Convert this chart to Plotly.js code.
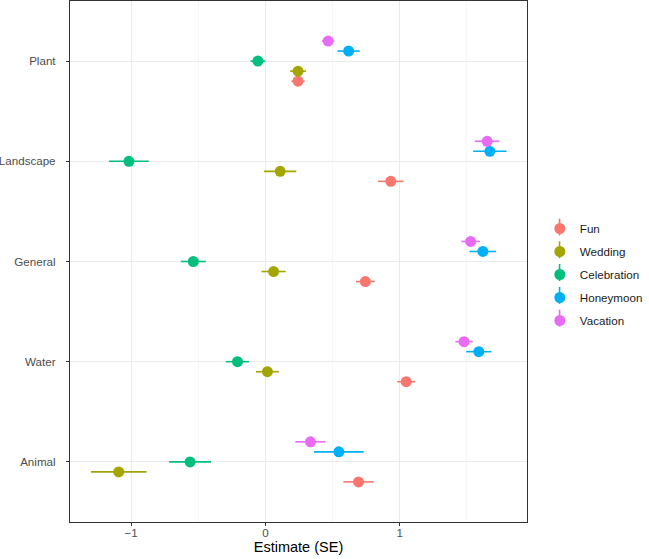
<!DOCTYPE html>
<html>
<head>
<meta charset="utf-8">
<script src="https://cdn.plot.ly/plotly-3.0.1.min.js"></script>
<style>html,body{margin:0;padding:0;background:#fff;}#chart{width:649px;height:559px;}</style>
</head>
<body>
<div id="chart"></div>
<script>
// Categories, top to bottom
const categories = ["Plant", "Landscape", "General", "Water", "Animal"];
const seriesNames = ["Fun", "Wedding", "Celebration", "Honeymoon", "Vacation"];
const seriesColors = ["#F8766D", "#A3A500", "#00BF7D", "#00B0F6", "#E76BF3"];

// Estimates per series, in category order (Plant, Landscape, General, Water, Animal)
const funEst         = [0.243, 0.934, 0.745, 1.049, 0.694];
const funSE          = [0.050, 0.096, 0.070, 0.066, 0.113];
const weddingEst     = [0.243, 0.110, 0.061, 0.015, -1.093];
const weddingSE      = [0.059, 0.120, 0.090, 0.085, 0.207];
const celebrationEst = [-0.056, -1.017, -0.537, -0.208, -0.561];
const celebrationSE  = [0.055, 0.148, 0.093, 0.087, 0.156];
const honeymoonEst   = [0.620, 1.672, 1.620, 1.590, 0.547];
const honeymoonSE    = [0.083, 0.124, 0.099, 0.094, 0.185];
const vacationEst    = [0.468, 1.652, 1.529, 1.480, 0.336];
const vacationSE     = [0.046, 0.092, 0.069, 0.065, 0.113];

const estimates = [funEst, weddingEst, celebrationEst, honeymoonEst, vacationEst];
const errors = [funSE, weddingSE, celebrationSE, honeymoonSE, vacationSE];

const nCat = categories.length;
const dodge = 0.1;
const font = "Liberation Sans, Arial, sans-serif";

const traces = seriesNames.map((name, s) => ({
  type: "scatter",
  mode: "markers",
  name: name,
  legendgroup: name,
  x: estimates[s],
  y: categories.map((c, i) => (nCat - 1 - i) + (s - 2) * dodge),
  error_x: { type: "data", array: errors[s], visible: true, color: seriesColors[s], thickness: 1.6, width: 0 },
  marker: { color: seriesColors[s], size: 11, line: { width: 0 } },
  hoverinfo: "x+name"
}));

// legend key vertical lines (ggplot pointrange key)
const legendShapes = seriesNames.map((name, s) => {
  const yc = 227 + 22.8 * s;
  const top = 1, bottom = 522;
  const toPaper = (py) => (bottom - py) / (bottom - top);
  const xp = (566 - 70) / 463;
  return {
    type: "line", xref: "paper", yref: "paper",
    x0: xp, x1: xp, y0: toPaper(yc - 8.5), y1: toPaper(yc + 8.5),
    line: { color: seriesColors[s], width: 1.6 }
  };
});

const layout = {
  width: 649, height: 559,
  margin: { l: 70, r: 116, t: 1, b: 37 },
  paper_bgcolor: "#ffffff",
  plot_bgcolor: "#ffffff",
  font: { family: font, size: 11.6, color: "#000000" },
  showlegend: true,
  legend: {
    x: (546 - 70) / 463, xanchor: "left",
    y: (522 - 214) / 521, yanchor: "top",
    bgcolor: "rgba(0,0,0,0)",
    tracegroupgap: 4,
    traceorder: "grouped",
    font: { family: font, size: 11.6, color: "#1a1a1a" }
  },
  xaxis: {
    range: [-1.456, 1.949],
    tickmode: "linear", tick0: 0, dtick: 1,
    tickformat: "d",
    showgrid: true, gridcolor: "#EBEBEB", gridwidth: 1,
    minor: { tickmode: "linear", tick0: 0.5, dtick: 1, showgrid: true, gridcolor: "#F2F2F2", gridwidth: 0.6, ticks: "" },
    zeroline: false,
    showline: true, mirror: true, linecolor: "#333333", linewidth: 1.1,
    ticks: "outside", ticklen: 3, tickcolor: "#333333", tickwidth: 1.1,
    ticklabelstandoff: -3,
    tickfont: { family: font, size: 11.6, color: "#4D4D4D" },
    title: { text: "Estimate (SE)", font: { family: font, size: 14.5, color: "#000000" }, standoff: 2 },
    automargin: false
  },
  yaxis: {
    range: [-0.6, 4.6],
    tickmode: "array",
    tickvals: categories.map((c, i) => nCat - 1 - i),
    ticktext: categories,
    showgrid: true, gridcolor: "#EBEBEB", gridwidth: 1,
    zeroline: false,
    showline: true, mirror: true, linecolor: "#333333", linewidth: 1.1,
    ticks: "outside", ticklen: 3, tickcolor: "#333333", tickwidth: 1.1,
    ticklabelstandoff: 8,
    tickfont: { family: font, size: 11.6, color: "#4D4D4D" },
    automargin: false
  },
  shapes: legendShapes
};

Plotly.newPlot("chart", traces, layout, { displayModeBar: false, staticPlot: true });
</script>
</body>
</html>
